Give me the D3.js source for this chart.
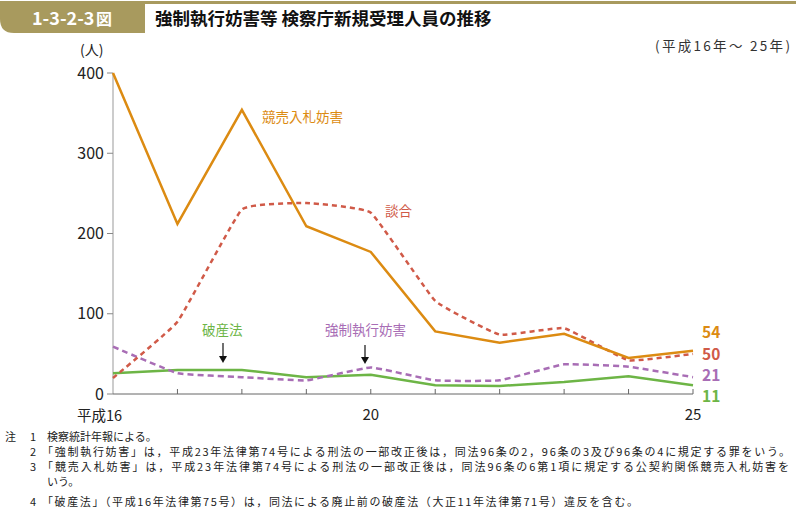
<!DOCTYPE html>
<html><head><meta charset="utf-8">
<script src="https://cdn.jsdelivr.net/npm/d3@7"></script>
<style>
body{margin:0;background:#fff;font-family:"Noto Sans CJK JP","Noto Sans",sans-serif;}
svg text{font-family:"Noto Sans CJK JP","Noto Sans",sans-serif;}
</style></head><body>
<svg id="c" width="796" height="510"></svg>
<script>
const years = [16,17,18,19,20,21,22,23,24,25];
const xTickLabels = {16:"平成16",20:"20",25:"25"};
const yTicks = [0,100,200,300,400];
const keibai = [400,212,354,209,177,78,64,75,45,54];
const dango = [20,90,230,238,226,116,74,82,42,50];
const kyosei = [59,26,21,17,33,17,17,37,34,21];
const hasan = [26,30,30,21,24,11,10,15,22,11];

const series = [
  {name:"競売入札妨害", values:keibai, color:"#DC8B12", dash:null, label:[262,122]},
  {name:"談合", values:dango, color:"#D05A48", dash:"5,4", label:[385,216]},
  {name:"強制執行妨害", values:kyosei, color:"#A86DB5", dash:"6,4", label:[325,335]},
  {name:"破産法", values:hasan, color:"#6DB546", dash:null, label:[202,335]}
];

const svg = d3.select("#c");
const x = d3.scaleLinear().domain([16,25]).range([113,693]);
const y = d3.scaleLinear().domain([0,400]).range([394,73]);

// header
svg.append("rect").attr("x",0).attr("y",1).attr("width",796).attr("height",3).attr("fill","#A89A5E");
svg.append("path").attr("d","M0,1 H145 V33 H14 Q0,33 0,19 Z").attr("fill","#A89A5E");
svg.append("text").attr("x",32).attr("y",25).attr("fill","#fff").attr("font-size",18).attr("font-weight","bold").text("1-3-2-3");
svg.append("text").attr("x",96).attr("y",25).attr("fill","#fff").attr("font-size",16).attr("font-weight","bold").text("図");
svg.append("text").attr("x",155).attr("y",25).attr("fill","#111").attr("font-size",17.5).attr("font-weight","bold").text("強制執行妨害等 検察庁新規受理人員の推移");
svg.append("text").attr("x",655).attr("y",51).attr("fill","#333").attr("font-size",13.5)
  .attr("textLength",135).attr("lengthAdjust","spacing").text("(平成16年～ 25年)");

// axes
svg.append("line").attr("x1",113).attr("x2",113).attr("y1",y(400)).attr("y2",y(0)).attr("stroke","#bbb").attr("stroke-width",1.5);
yTicks.forEach(t=>{
  svg.append("line").attr("x1",107).attr("x2",113).attr("y1",y(t)).attr("y2",y(t)).attr("stroke","#888");
  svg.append("text").attr("x",104).attr("y",y(t)+5.5).attr("text-anchor","end").attr("font-size",16).attr("fill","#222").text(t);
});
svg.append("text").attr("x",80).attr("y",55).attr("font-size",14).attr("fill","#222").text("(人)");
svg.append("line").attr("x1",113).attr("x2",693).attr("y1",y(0)).attr("y2",y(0)).attr("stroke","#666").attr("stroke-width",1);
years.forEach(yr=>{
  if(yr>16) svg.append("line").attr("x1",x(yr)).attr("x2",x(yr)).attr("y1",y(0)).attr("y2",y(0)-5).attr("stroke","#666");
});
svg.append("text").attr("x",x(16)+9).attr("y",421).attr("text-anchor","end").attr("font-size",14.5).attr("fill","#222").text(xTickLabels[16]);
svg.append("text").attr("x",x(20)).attr("y",420).attr("text-anchor","middle").attr("font-size",15).attr("fill","#222").text(xTickLabels[20]);
svg.append("text").attr("x",x(25)).attr("y",420).attr("text-anchor","middle").attr("font-size",15).attr("fill","#222").text(xTickLabels[25]);

// lines
const draw = (s)=>{
  const line = d3.line().x((d,i)=>x(years[i])).y(d=>y(d));
  if(s.dash) line.curve(d3.curveCardinal.tension(0.7));
  svg.append("path").datum(s.values).attr("d",line).attr("fill","none")
    .attr("stroke",s.color).attr("stroke-width",2.5).attr("stroke-dasharray",s.dash);
};
[series[3],series[2],series[1],series[0]].forEach(draw);

// labels
series.forEach(s=>{
  svg.append("text").attr("x",s.label[0]).attr("y",s.label[1]).attr("font-size",13.5).attr("fill",s.color).text(s.name);
});
// arrows
const arrow = (ax,y1,y2)=>{
  svg.append("line").attr("x1",ax).attr("x2",ax).attr("y1",y1).attr("y2",y2-4).attr("stroke","#111").attr("stroke-width",1.2);
  svg.append("path").attr("d",`M${ax-4},${y2-7} L${ax+4},${y2-7} L${ax},${y2} Z`).attr("fill","#111");
};
arrow(223,343,363);
arrow(365,345,364);

// end labels
const endY = [332,354,375,396];
series.forEach((s,i)=>{
  svg.append("text").attr("x",702).attr("y",endY[i]+6).attr("font-size",15.5).attr("font-weight","bold").attr("fill",s.color).text(s.values[s.values.length-1]);
});

// notes
const notes = [
  [437,"1","検察統計年報による。",47,null],
  [452,"2","「強制執行妨害」は，平成23年法律第74号による刑法の一部改正後は，同法96条の2，96条の3及び96条の4に規定する罪をいう。",42,748],
  [467,"3","「競売入札妨害」は，平成23年法律第74号による刑法の一部改正後は，同法96条の6第1項に規定する公契約関係競売入札妨害を",42,747],
  [482,"","いう。",47,null],
  [502,"4","「破産法」（平成16年法律第75号）は，同法による廃止前の破産法（大正11年法律第71号）違反を含む。",42,596]
];
svg.append("text").attr("x",5).attr("y",441).attr("font-size",11).attr("fill","#222").text("注");
notes.forEach(n=>{
  if(n[1]) svg.append("text").attr("x",30).attr("y",n[0]+4).attr("font-size",11).attr("fill","#222").text(n[1]);
  const t = svg.append("text").attr("x",n[3]).attr("y",n[0]+4).attr("font-size",11).attr("fill","#222").text(n[2]);
  if(n[4]) t.attr("textLength",n[4]).attr("lengthAdjust","spacing");
});
</script></body></html>
